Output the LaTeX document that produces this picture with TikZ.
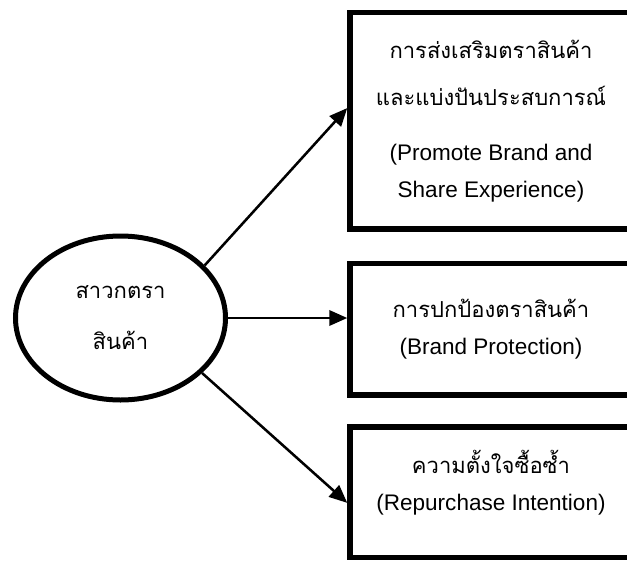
\documentclass[tikz,border=0pt]{standalone}
\usepackage{fontspec}
\setmainfont{Liberation Sans}
\newfontfamily\thaifont[Script=Thai]{Loma}
\usetikzlibrary{shapes.geometric,arrows.meta,positioning}

\begin{document}
\begin{tikzpicture}[
    x=0.75pt, y=-0.75pt,
    box/.style={rectangle, draw, line width=4.1pt, minimum width=211.5pt, align=center, font=\fontsize{16.9pt}{27.75pt}\selectfont},
    oval/.style={ellipse, draw, line width=3.75pt, minimum width=157.5pt, minimum height=123pt, align=center, font=\thaifont\fontsize{16.5pt}{27.75pt}\selectfont},
    arrow/.style={-{Triangle[length=13.5pt,width=11.5pt]}, line width=1.9pt}
]
\clip (0,0) rectangle (627,560);
\fill[white] (0,0) rectangle (627,560);

% outcome boxes, right column
\node[box, anchor=north west, minimum height=162.4pt] (promote) at (347.25,9.75)
    {{\thaifont\fontsize{16.5pt}{27.75pt}\selectfont การส่งเสริมตราสินค้า}\\[7.5pt]{\thaifont\fontsize{16.5pt}{27.75pt}\selectfont และแบ่งปันประสบการณ์}\\[13.5pt](Promote Brand and\\Share Experience)};
\node[box, below=21.75pt of promote, minimum height=98.6pt] (protect)
    {{\thaifont\fontsize{16.5pt}{27.75pt}\selectfont การปกป้องตราสินค้า}\\(Brand Protection)};
\node[box, below=19.9pt of protect, minimum height=97.9pt, text depth=18pt] (repurchase)
    {{\thaifont\fontsize{16.5pt}{27.75pt}\selectfont ความตั้งใจซื้อซ้ำ}\\(Repurchase Intention)};

% brand fans
\node[oval, text depth=0pt] (fans) at (120.5,318) {สาวกตรา\\[10.5pt]สินค้า};

\draw[arrow] (fans.32.7) -- ([yshift=9.5pt]promote.west);
\draw[arrow] (fans.east) -- (fans.east -| protect.west);
\draw[arrow] (fans.-34.6) -- ([yshift=-8pt]repurchase.west);
\end{tikzpicture}
\end{document}
